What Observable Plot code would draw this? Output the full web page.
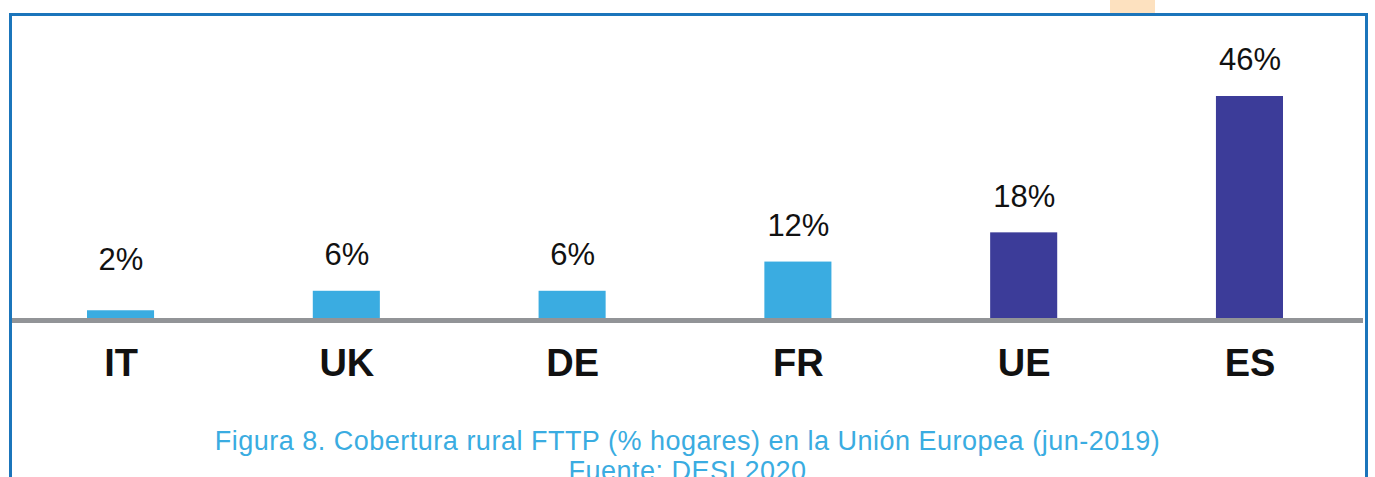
<!DOCTYPE html>
<html>
<head>
<meta charset="utf-8">
<script src="https://cdn.jsdelivr.net/npm/d3@7"></script>
<script src="https://cdn.jsdelivr.net/npm/@observablehq/plot@0.6"></script>
<style>
  html, body { margin: 0; padding: 0; background: #fff; }
  #wrap { position: relative; width: 1375px; height: 477px; overflow: hidden; font-family: "Liberation Sans", Arial, sans-serif; }
  #frame { position: absolute; left: 9px; top: 13px; width: 1353px; height: 700px; border: 3px solid #1b75bb; }
  #tab { position: absolute; left: 1110px; top: 0; width: 45px; height: 13px; background: #fde1bf; }
  #chart { position: absolute; left: 0; top: 0; }
  #caption { position: absolute; left: 0; top: 426px; width: 1375px; text-align: center; color: #3aace1; font-size: 27px; line-height: 30px; letter-spacing: 0.5px; }
</style>
</head>
<body>
<div id="wrap">
  <div id="tab"></div>
  <div id="frame"></div>
  <div id="chart"></div>
  <div id="caption">Figura 8. Cobertura rural FTTP (% hogares) en la Unión Europea (jun-2019)<br>Fuente: DESI 2020</div>
</div>
<script>
const categories = ["IT", "UK", "DE", "FR", "UE", "ES"];
const values = [2, 6, 6, 12, 18, 46];
const highlighted = ["UE", "ES"];

const data = categories.map((c, i) => ({cat: c, value: values[i]}));
const light = "#3aace1", dark = "#3c3c99";

const chart = Plot.plot({
  width: 1375,
  height: 415,
  marginTop: 96,
  marginBottom: 95,
  marginLeft: 87,
  marginRight: 92,
  style: {fontFamily: "'Liberation Sans', Arial, sans-serif", background: "transparent", overflow: "visible"},
  x: {domain: categories, paddingInner: 0.703, paddingOuter: 0, round: false, label: null},
  y: {domain: [0, 46], axis: null},
  marks: [
    Plot.barY(data, {x: "cat", y: "value", fill: d => highlighted.includes(d.cat) ? dark : light}),
    Plot.ruleY([0], {stroke: "#929497", strokeWidth: 5, insetLeft: -75, insetRight: -80}),
    Plot.text(data, {x: "cat", y: d => Math.max(d.value, 5), dy: -36, text: d => d.value + "%", fontSize: 31, fill: "#111", letterSpacing: 1}),
    Plot.axisX({tickSize: 0, tickPadding: 29, fontSize: 38, fontWeight: "bold", fill: "#111", label: null})
  ]
});
document.getElementById("chart").appendChild(chart);
</script>
</body>
</html>
